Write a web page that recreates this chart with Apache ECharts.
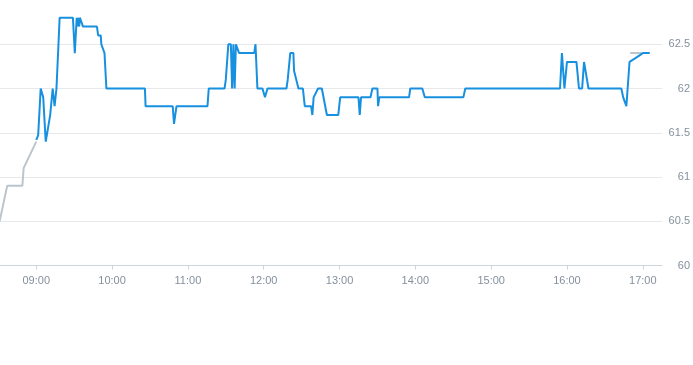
<!DOCTYPE html>
<html>
<head>
<meta charset="utf-8">
<script src="https://cdn.jsdelivr.net/npm/echarts@6/dist/echarts.min.js"></script>
<style>
html,body{margin:0;padding:0;background:#fff;}
#chart{width:693px;height:365px;}
</style>
</head>
<body>
<div id="chart"></div>
<script>
var preTimes = ["08:31","08:37","08:49","08:50","09:00"];
var preValues = [60.5,60.9,60.9,61.1,61.4];

var times = ["09:00","09:01:30","09:03:30","09:05:30","09:07:30","09:11","09:11:30","09:13","09:14","09:14:30",
"09:16","09:17:30","09:18:30","09:29","09:30:30","09:32","09:32:30","09:33","09:34","09:34:30",
"09:36","09:37","09:48","09:49","09:51","09:51:30","09:53","09:54","09:55:30","10:26",
"10:26:30","10:48","10:49","10:50:30","10:51","11:15:30","11:16:30","11:29","11:30","11:31:30",
"11:32","11:34","11:35","11:36","11:37","11:38","11:39:30","11:40:30","11:52:30","11:53:30",
"11:55","11:59","12:01","12:03","12:18","12:19","12:20:30","12:21","12:23:30","12:24",
"12:25","12:27:30","12:31","12:32:30","12:37:30","12:38:30","12:39:30","12:40:30","12:43","12:46",
"12:50","12:59","13:00:30","13:15","13:16","13:17","13:24:30","13:26","13:30","13:30:30",
"13:31:30","13:55","13:56","14:05:30","14:07:30","14:38","14:39:30","15:54:30","15:56","15:58",
"16:00","16:07:30","16:09:30","16:12","16:13:30","16:15","16:17","16:43","16:44:30","16:45",
"16:47","16:49:30","16:56","17:00","17:05:30"];
var values = [61.42,61.47,62.0,61.9,61.4,61.7,61.7,62.0,62.0,61.8,
62.0,62.0,62.8,62.8,62.4,62.8,62.7,62.8,62.7,62.8,
62.8,62.7,62.7,62.6,62.6,62.5,62.5,62.4,62.0,62.0,
61.8,61.8,61.6,61.6,61.8,61.8,62.0,62.0,62.1,62.1,
62.5,62.5,62.0,62.5,62.0,62.5,62.5,62.4,62.4,62.5,
62.0,62.0,61.9,62.0,62.0,62.1,62.1,62.4,62.4,62.2,
62.2,62.0,62.0,61.8,61.8,61.7,61.9,61.9,62.0,62.0,
61.7,61.7,61.9,61.9,61.7,61.9,61.9,62.0,62.0,61.8,
61.9,61.9,62.0,62.0,61.9,61.9,62.0,62.0,62.4,62.0,
62.3,62.3,62.0,62.0,62.3,62.3,62.0,62.0,61.9,61.9,
61.8,62.3,62.36,62.4,62.4];

var postTimes = ["16:50","16:59"];
var postValues = [62.4,62.4];

var tickTimes = ["09:00","10:00","11:00","12:00","13:00","14:00","15:00","16:00","17:00"];

function toMin(s){
  var p = s.split(":");
  return (+p[0])*60 + (+p[1]) + (p[2] ? (+p[2])/60 : 0);
}
function pad(n){ return (n<10?"0":"")+n; }
function fmt(m){ m = Math.round(m); return pad(Math.floor(m/60)) + ":" + pad(m%60); }
function pairs(t, v){ return t.map(function(s,i){ return [toMin(s), v[i]]; }); }

var tickVals = tickTimes.map(toMin);

var chart = echarts.init(document.getElementById('chart'), null, {renderer:'canvas'});
chart.setOption({
  animation:false,
  grid:{left:0,right:29,top:0,bottom:99.5,containLabel:false},
  xAxis:{
    type:'value', min:511.3, max:1035.2,
    axisLine:{show:true,lineStyle:{color:'#cfd4da',width:1}},
    axisTick:{show:true,customValues:tickVals,length:4,lineStyle:{color:'#cfd4da'}},
    axisLabel:{customValues:tickVals,formatter:function(v){return fmt(v);},color:'#84909d',fontSize:11,fontFamily:'Liberation Sans, Arial, sans-serif',margin:10},
    splitLine:{show:false}
  },
  yAxis:{
    type:'value', position:'right', min:60, max:63, interval:0.5,
    axisLine:{show:false}, axisTick:{show:false},
    axisLabel:{align:'right',margin:28,color:'#84909d',fontSize:11,fontFamily:'Liberation Sans, Arial, sans-serif',showMaxLabel:false},
    splitLine:{show:true,showMaxLine:false,lineStyle:{color:'#e6e8eb',width:1}}
  },
  series:[
    {type:'line',data:pairs(preTimes,preValues),showSymbol:false,symbol:'none',lineStyle:{color:'#bcc5cd',width:2},z:1},
    {type:'line',data:pairs(postTimes,postValues),showSymbol:false,symbol:'none',lineStyle:{color:'#bcc5cd',width:2},z:1},
    {type:'line',data:pairs(times,values),showSymbol:false,symbol:'none',lineStyle:{color:'#1790e0',width:2},z:2}
  ]
});
</script>
</body>
</html>
